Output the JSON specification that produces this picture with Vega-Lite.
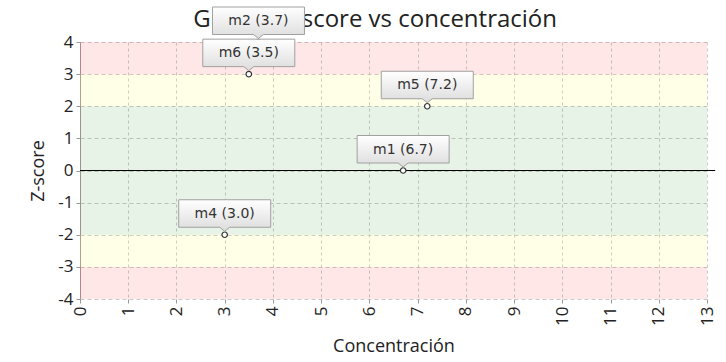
{
  "$schema": "https://vega.github.io/schema/vega-lite/v6.json",
  "autosize": "none",
  "width": 627,
  "height": 257,
  "padding": {"left": 80, "top": 42, "right": 19, "bottom": 63},
  "background": "white",
  "config": {"view": {"stroke": null}, "font": "Open Sans",
    "axisY": {"values": [-4,-3,-2,-1,0,1,2,3,4], "labelOverlap": false, "labelExpr": "datum.value < 0 ? '-' + abs(datum.value) : '' + datum.value", "titleFont": "Open Sans", "titleFontSize": 18, "titleFontWeight": "normal", "titleColor": "#222", "titlePadding": 10,
      "labelFontSize": 17, "labelColor": "#222", "labelFont": "Open Sans", "labelPadding": 3, "tickSize": 4, "tickColor": "#999", "domainColor": "#a89898",
      "grid": true, "gridColor": "#cacaca", "gridDash": [4, 3], "gridWidth": 1},
    "axisX": {"labelOverlap": false, "titleFont": "Open Sans", "titleFontSize": 18, "titleFontWeight": "normal", "titleColor": "#222", "titlePadding": 12,
      "labelAngle": 270, "labelFontSize": 17, "labelColor": "#222", "labelFont": "Open Sans", "labelPadding": 3, "tickSize": 4, "tickColor": "#999", "domain": false,
      "grid": true, "gridColor": "#cacaca", "gridDash": [3, 3], "gridWidth": 1}
  },
  "datasets": {
    "bands": [
      {"lo": 3, "hi": 4, "zone": "rojo"},
      {"lo": -4, "hi": -3, "zone": "rojo"},
      {"lo": 2, "hi": 3, "zone": "amarillo"},
      {"lo": -3, "hi": -2, "zone": "amarillo"},
      {"lo": -2, "hi": 2, "zone": "verde"}
    ],
    "points": [
      {"muestra": "m1", "conc": 6.7, "z": 0, "label": "m1 (6.7)"},
      {"muestra": "m4", "conc": 3.0, "z": -2, "label": "m4 (3.0)"},
      {"muestra": "m5", "conc": 7.2, "z": 2, "label": "m5 (7.2)"},
      {"muestra": "m2", "conc": 3.7, "z": 4, "label": "m2 (3.7)"},
      {"muestra": "m6", "conc": 3.5, "z": 3, "label": "m6 (3.5)"}
    ]
  },
  "layer": [
    {
      "data": {"name": "bands"},
      "mark": {"type": "rect", "opacity": 0.095},
      "encoding": {
        "y": {"field": "lo", "type": "quantitative", "scale": {"domain": [-4, 4], "nice": false},
          "axis": {"values": [-4,-3,-2,-1,0,1,2,3,4], "title": "Z-score"}},
        "y2": {"field": "hi"},
        "x": {"datum": 0, "type": "quantitative", "scale": {"domain": [0, 13], "nice": false},
          "axis": {"values": [0,1,2,3,4,5,6,7,8,9,10,11,12,13], "title": "Concentración"}},
        "x2": {"datum": 13},
        "color": {"field": "zone", "type": "nominal", "scale": {"domain": ["rojo", "amarillo", "verde"], "range": ["#ff0000", "#ffff00", "#008000"]}, "legend": null}
      }
    },
    {
      "data": {"values": [{"z": 0}]},
      "mark": {"type": "rule", "color": "#000", "strokeWidth": 1.2},
      "encoding": {
        "y": {"field": "z", "type": "quantitative", "axis": {"values": [-4,-3,-2,-1,0,1,2,3,4], "title": "Z-score"}},
        "x": {"datum": 0, "type": "quantitative", "axis": {"values": [0,1,2,3,4,5,6,7,8,9,10,11,12,13], "title": "Concentración"}},
        "x2": {"datum": 13.17}
      }
    },
    {
      "data": {"values": [{"titulo": "Gráfico Z-score vs concentración"}]},
      "mark": {"type": "text", "fontSize": 24, "font": "Open Sans", "color": "#222", "baseline": "alphabetic", "align": "center", "dy": -15},
      "encoding": {
        "x": {"datum": 6.12, "type": "quantitative", "axis": {"values": [0,1,2,3,4,5,6,7,8,9,10,11,12,13], "title": "Concentración"}},
        "y": {"datum": 4, "type": "quantitative", "axis": {"values": [-4,-3,-2,-1,0,1,2,3,4], "title": "Z-score"}},
        "text": {"field": "titulo"}
      }
    },
    {
      "data": {"name": "points"},
      "mark": {"type": "point", "shape": "circle", "size": 30, "filled": true, "fill": "white", "stroke": "#333", "strokeWidth": 1.2, "opacity": 1},
      "encoding": {
        "x": {"field": "conc", "type": "quantitative", "axis": {"values": [0,1,2,3,4,5,6,7,8,9,10,11,12,13], "title": "Concentración"}},
        "y": {"field": "z", "type": "quantitative", "axis": {"values": [-4,-3,-2,-1,0,1,2,3,4], "title": "Z-score"}}
      }
    },
    {
      "data": {"name": "points"},
      "mark": {"type": "point", "shape": "M-4.6,-3.5 L4.6,-3.5 L4.6,-0.75 L0.5,-0.75 L0,-0.35 L-0.5,-0.75 L-4.6,-0.75 Z", "size": 400, "filled": true, "opacity": 1,
        "fill": {"gradient": "linear", "x1": 0, "y1": 0, "x2": 0, "y2": 1, "stops": [{"offset": 0, "color": "#ffffff"}, {"offset": 1, "color": "#dcdcdc"}]},
        "stroke": "#a0a0a0", "strokeWidth": 1},
      "encoding": {
        "x": {"field": "conc", "type": "quantitative", "axis": {"values": [0,1,2,3,4,5,6,7,8,9,10,11,12,13], "title": "Concentración"}},
        "y": {"field": "z", "type": "quantitative", "axis": {"values": [-4,-3,-2,-1,0,1,2,3,4], "title": "Z-score"}}
      }
    },
    {
      "data": {"name": "points"},
      "mark": {"type": "text", "dy": -21, "fontSize": 14, "font": "DejaVu Sans", "color": "#333", "baseline": "middle", "align": "center"},
      "encoding": {
        "x": {"field": "conc", "type": "quantitative", "axis": {"values": [0,1,2,3,4,5,6,7,8,9,10,11,12,13], "title": "Concentración"}},
        "y": {"field": "z", "type": "quantitative", "axis": {"values": [-4,-3,-2,-1,0,1,2,3,4], "title": "Z-score"}},
        "text": {"field": "label"}
      }
    }
  ]
}
